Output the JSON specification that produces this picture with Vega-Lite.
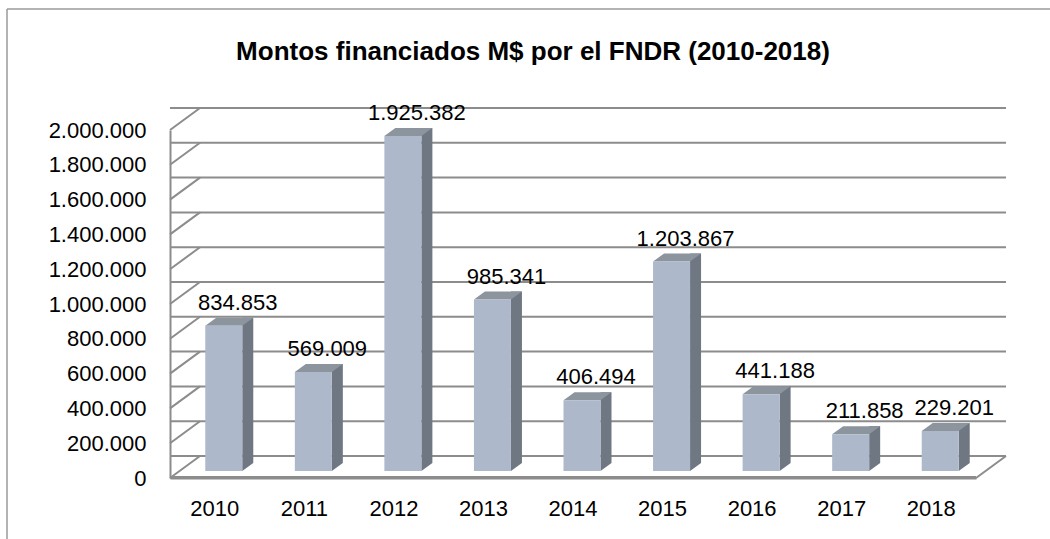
{
  "$schema": "https://vega.github.io/schema/vega-lite/v6.json",
  "autosize": {"type": "none"},
  "width": 806,
  "height": 348,
  "padding": {"left": 170, "top": 130, "right": 74, "bottom": 61},
  "background": "white",
  "config": {
    "locale": {"number": {"decimal": ",", "thousands": ".", "grouping": [3], "currency": ["$", ""]}},
    "view": {"stroke": null},
    "font": "Liberation Sans",
    "axisX": {
      "ticks": false, "domain": true, "domainColor": "#8c8c8c", "domainWidth": 2, "labelAngle": 0,
      "labelAlign": "center", "labelFontSize": 22, "labelColor": "black", "labelPadding": 20,
      "labelFont": "Liberation Sans", "grid": false
    }
  },
  "title": {
    "text": "Montos financiados M$ por el FNDR (2010-2018)",
    "font": "Liberation Sans",
    "fontSize": 26,
    "fontWeight": "bold",
    "color": "black",
    "anchor": "middle",
    "frame": "group",
    "baseline": "alphabetic",
    "dx": -40,
    "offset": -78
  },
  "datasets": {
    "bars": [
      {"year": "2010", "value": 834853},
      {"year": "2011", "value": 569009},
      {"year": "2012", "value": 1925382},
      {"year": "2013", "value": 985341},
      {"year": "2014", "value": 406494},
      {"year": "2015", "value": 1203867},
      {"year": "2016", "value": 441188},
      {"year": "2017", "value": 211858},
      {"year": "2018", "value": 229201}
    ],
    "grid": [
      {"value": 0}, {"value": 200000}, {"value": 400000}, {"value": 600000},
      {"value": 800000}, {"value": 1000000}, {"value": 1200000}, {"value": 1400000},
      {"value": 1600000}, {"value": 1800000}, {"value": 2000000}
    ]
  },
  "encoding": {
    "y": {
      "field": "value", "type": "quantitative",
      "scale": {"domain": [0, 2000000], "nice": false, "zero": true},
      "axis": {
        "title": null, "values": [0, 200000, 400000, 600000, 800000, 1000000, 1200000, 1400000, 1600000, 1800000, 2000000],
        "format": ",d", "grid": false, "ticks": false, "domainColor": "#8c8c8c", "domainWidth": 2,
        "labelFontSize": 22, "labelColor": "black", "labelPadding": 24, "labelOverlap": false,
        "labelFont": "Liberation Sans"
      }
    }
  },
  "layer": [
    {
      "data": {"name": "grid"},
      "mark": {"type": "rule", "color": "#8c8c8c", "strokeWidth": 2, "xOffset": 30, "x2Offset": 30, "yOffset": -22, "y2Offset": -22},
      "encoding": {}
    },
    {
      "data": {"name": "grid"},
      "mark": {"type": "rule", "color": "#8c8c8c", "strokeWidth": 2, "x2Offset": 30, "y2Offset": -22},
      "encoding": {
        "x": {"datum": "2010", "bandPosition": 0, "title": null},
        "x2": {"datum": "2010", "bandPosition": 0},
        "y2": {"field": "value"}
      }
    },
    {
      "data": {"name": "grid"},
      "transform": [{"filter": "datum.value == 0"}],
      "mark": {"type": "rule", "color": "#8c8c8c", "strokeWidth": 2, "x2Offset": 30, "y2Offset": -22},
      "encoding": {
        "x": {"datum": "2018", "bandPosition": 1, "title": null},
        "x2": {"datum": "2018", "bandPosition": 1},
        "y2": {"field": "value"}
      }
    },
    {
      "data": {"name": "grid"},
      "transform": [{"filter": "datum.value == 0"}],
      "mark": {"type": "rule", "color": "#8c8c8c", "strokeWidth": 2, "yOffset": -1, "y2Offset": -1},
      "encoding": {
        "x": {"datum": "2010", "bandPosition": 0, "title": null},
        "x2": {"datum": "2018", "bandPosition": 1},
        "y2": {"field": "value"}
      }
    },
    {
      "data": {"name": "grid"},
      "transform": [{"filter": "datum.value == 2000000"}],
      "mark": {"type": "rule", "color": "#9a9a9a", "strokeWidth": 1.5, "xOffset": -163, "yOffset": -121, "y2Offset": 80},
      "encoding": {
        "x": {"datum": "2010", "bandPosition": 0, "title": null},
        "y2": {"datum": 0}
      }
    },
    {
      "data": {"name": "grid"},
      "transform": [{"filter": "datum.value == 2000000"}],
      "mark": {"type": "rule", "color": "#9a9a9a", "strokeWidth": 1.5, "xOffset": -163, "x2Offset": 300, "yOffset": -121},
      "encoding": {
        "x": {"datum": "2010", "bandPosition": 0, "title": null},
        "x2": {"datum": "2018", "bandPosition": 1}
      }
    },
    {
      "data": {"name": "bars"},
      "mark": {"type": "bar", "color": "#6f7782", "width": 11, "xOffset": 33, "yOffset": -15, "y2Offset": -15},
      "encoding": {
        "x": {
          "field": "year", "type": "ordinal", "title": null,
          "scale": {"type": "band", "paddingInner": 0, "paddingOuter": 0, "domain": ["2010", "2011", "2012", "2013", "2014", "2015", "2016", "2017", "2018"]},
          "axis": {"title": null, "labelAlign": "center", "bandPosition": 0.5, "domain": true, "domainColor": "#8c8c8c", "domainWidth": 2}
        },
        "y2": {"datum": 0}
      }
    },
    {
      "data": {"name": "bars"},
      "mark": {"type": "point", "shape": "M 1.1458 -0.625 L 1.1458 -0.2917 L 1.6042 -0.625 Z", "size": 2304, "filled": true, "color": "#6f7782", "opacity": 1, "strokeWidth": 0},
      "encoding": {
        "x": {"field": "year", "type": "ordinal", "title": null},
        "y": {"datum": 0}
      }
    },
    {
      "data": {"name": "bars"},
      "mark": {"type": "point", "shape": "M -0.3958 -0.2917 L 1.1458 -0.2917 L 1.6042 -0.625 L 0.0625 -0.625 Z", "size": 2304, "filled": true, "color": "#8c949e", "opacity": 1, "strokeWidth": 0},
      "encoding": {
        "x": {"field": "year", "type": "ordinal", "title": null}
      }
    },
    {
      "data": {"name": "bars"},
      "mark": {"type": "bar", "color": "#adb8ca", "width": 37, "xOffset": 9, "yOffset": -7, "y2Offset": -7},
      "encoding": {
        "x": {"field": "year", "type": "ordinal", "title": null},
        "y2": {"datum": 0}
      }
    },
    {
      "data": {"name": "bars"},
      "mark": {"type": "text", "font": "Liberation Sans", "fontSize": 22, "dx": 23, "dy": -23, "baseline": "alphabetic", "align": "center", "color": "black"},
      "encoding": {
        "x": {"field": "year", "type": "ordinal", "title": null},
        "text": {"field": "value", "type": "quantitative", "format": ",d"}
      }
    }
  ]
}
